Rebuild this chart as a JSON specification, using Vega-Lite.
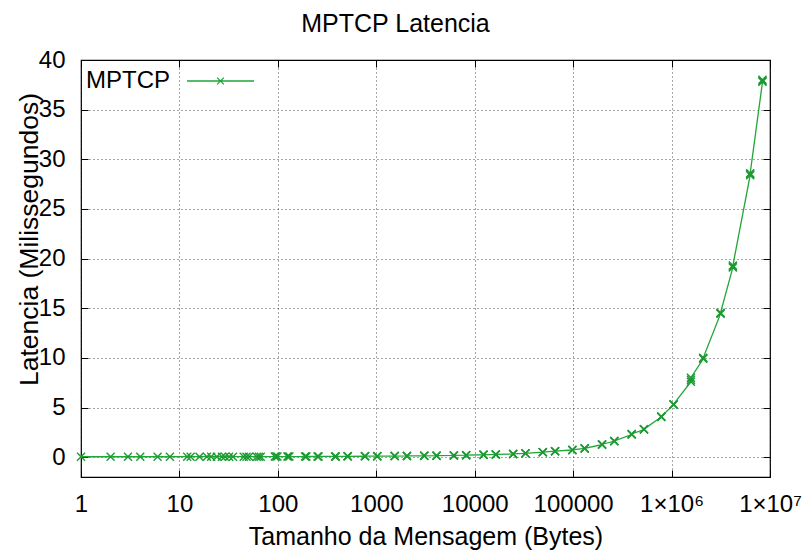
{
  "$schema": "https://vega.github.io/schema/vega-lite/v6.json",
  "width": 689,
  "height": 417,
  "autosize": "none",
  "padding": {"left": 81, "top": 60, "right": 38, "bottom": 77},
  "background": "white",
  "config": {
    "view": {"stroke": "#000", "strokeWidth": 1.2},
    "axis": {"labelFont": "Liberation Sans", "titleFont": "Liberation Sans", "labelColor": "#000", "titleColor": "#000", "titleFontWeight": "normal", "tickColor": "#000", "tickWidth": 1, "domain": false, "labelFlush": false, "labelOverlap": false, "labelBound": false}
  },
  "data": {"values": [
    {"size": 1, "lat": 0.041}, {"size": 2, "lat": 0.041}, {"size": 3, "lat": 0.042}, {"size": 4, "lat": 0.041},
    {"size": 6, "lat": 0.042}, {"size": 8, "lat": 0.042}, {"size": 12, "lat": 0.043}, {"size": 13, "lat": 0.043},
    {"size": 16, "lat": 0.043}, {"size": 19, "lat": 0.044}, {"size": 21, "lat": 0.044}, {"size": 24, "lat": 0.044},
    {"size": 27, "lat": 0.045}, {"size": 29, "lat": 0.045}, {"size": 32, "lat": 0.045}, {"size": 35, "lat": 0.046},
    {"size": 45, "lat": 0.047}, {"size": 48, "lat": 0.047}, {"size": 51, "lat": 0.048}, {"size": 61, "lat": 0.049},
    {"size": 64, "lat": 0.049}, {"size": 67, "lat": 0.05}, {"size": 93, "lat": 0.053}, {"size": 96, "lat": 0.053},
    {"size": 99, "lat": 0.054}, {"size": 125, "lat": 0.056}, {"size": 128, "lat": 0.056}, {"size": 131, "lat": 0.057},
    {"size": 189, "lat": 0.062}, {"size": 192, "lat": 0.062}, {"size": 195, "lat": 0.063}, {"size": 253, "lat": 0.067},
    {"size": 256, "lat": 0.067}, {"size": 259, "lat": 0.068}, {"size": 381, "lat": 0.075}, {"size": 384, "lat": 0.075},
    {"size": 387, "lat": 0.076}, {"size": 509, "lat": 0.082}, {"size": 512, "lat": 0.082}, {"size": 515, "lat": 0.083},
    {"size": 765, "lat": 0.092}, {"size": 768, "lat": 0.092}, {"size": 771, "lat": 0.093}, {"size": 1021, "lat": 0.1},
    {"size": 1024, "lat": 0.1}, {"size": 1027, "lat": 0.101}, {"size": 1533, "lat": 0.11}, {"size": 1536, "lat": 0.11},
    {"size": 1539, "lat": 0.111}, {"size": 2045, "lat": 0.12}, {"size": 2048, "lat": 0.12}, {"size": 2051, "lat": 0.121},
    {"size": 3069, "lat": 0.135}, {"size": 3072, "lat": 0.135}, {"size": 3075, "lat": 0.136}, {"size": 4093, "lat": 0.15},
    {"size": 4096, "lat": 0.15}, {"size": 4099, "lat": 0.151}, {"size": 6141, "lat": 0.175}, {"size": 6144, "lat": 0.175},
    {"size": 6147, "lat": 0.176}, {"size": 8189, "lat": 0.2}, {"size": 8192, "lat": 0.2}, {"size": 8195, "lat": 0.201},
    {"size": 12285, "lat": 0.24}, {"size": 12288, "lat": 0.24}, {"size": 12291, "lat": 0.241}, {"size": 16381, "lat": 0.27},
    {"size": 16384, "lat": 0.27}, {"size": 16387, "lat": 0.272}, {"size": 24573, "lat": 0.32}, {"size": 24576, "lat": 0.32},
    {"size": 24579, "lat": 0.322}, {"size": 32765, "lat": 0.38}, {"size": 32768, "lat": 0.38}, {"size": 32771, "lat": 0.382},
    {"size": 49149, "lat": 0.5}, {"size": 49152, "lat": 0.5}, {"size": 49155, "lat": 0.505}, {"size": 65533, "lat": 0.6},
    {"size": 65536, "lat": 0.6}, {"size": 65539, "lat": 0.605}, {"size": 98301, "lat": 0.72}, {"size": 98304, "lat": 0.72},
    {"size": 98307, "lat": 0.73}, {"size": 131069, "lat": 0.88}, {"size": 131072, "lat": 0.88}, {"size": 131075, "lat": 0.89},
    {"size": 196605, "lat": 1.26}, {"size": 196608, "lat": 1.28}, {"size": 196611, "lat": 1.3}, {"size": 262141, "lat": 1.6},
    {"size": 262144, "lat": 1.62}, {"size": 262147, "lat": 1.63}, {"size": 393213, "lat": 2.27}, {"size": 393216, "lat": 2.3},
    {"size": 393219, "lat": 2.33}, {"size": 524285, "lat": 2.78}, {"size": 524288, "lat": 2.8}, {"size": 524291, "lat": 2.82},
    {"size": 786429, "lat": 4.05}, {"size": 786432, "lat": 4.07}, {"size": 786435, "lat": 4.09}, {"size": 1048573, "lat": 5.28},
    {"size": 1048576, "lat": 5.31}, {"size": 1048579, "lat": 5.34}, {"size": 1572861, "lat": 7.6}, {"size": 1572864, "lat": 7.8},
    {"size": 1572867, "lat": 8.0}, {"size": 2097149, "lat": 9.9}, {"size": 2097152, "lat": 9.95}, {"size": 2097155, "lat": 10.0},
    {"size": 3145725, "lat": 14.45}, {"size": 3145728, "lat": 14.5}, {"size": 3145731, "lat": 14.55}, {"size": 4194301, "lat": 19.1},
    {"size": 4194304, "lat": 19.2}, {"size": 4194307, "lat": 19.3}, {"size": 6291453, "lat": 28.4}, {"size": 6291456, "lat": 28.5},
    {"size": 6291459, "lat": 28.6}, {"size": 8388605, "lat": 37.8}, {"size": 8388608, "lat": 37.9}, {"size": 8388611, "lat": 38.0}
  ]},
  "layer": [
    {
      "mark": {"type": "line", "strokeWidth": 1.3},
      "encoding": {
        "x": {"field": "size", "type": "quantitative", "scale": {"type": "log", "domain": [1, 10000000], "nice": false},
          "axis": {"orient": "bottom", "values": [1, 10, 100, 1000, 10000, 100000, 1000000, 10000000],
            "labelExpr": "datum.value == 1000000 ? '1×10⁶' : datum.value == 10000000 ? '1×10⁷' : format(datum.value, 'd')",
            "grid": true, "gridColor": "#000", "gridDash": [1, 3], "gridOpacity": 0.7, "gridWidth": 1,
            "tickSize": -7, "labelFontSize": 24, "labelBaseline": "alphabetic", "labelPadding": 41.5,
            "title": "Tamanho da Mensagem (Bytes)", "titleFontSize": 25, "titleX": 344.5, "titleY": 67, "titleBaseline": "alphabetic", "titleAlign": "center"}},
        "y": {"field": "lat", "type": "quantitative", "scale": {"domain": [-2, 40], "nice": false, "zero": false},
          "axis": {"orient": "left", "values": [0, 5, 10, 15, 20, 25, 30, 35, 40],
            "grid": true, "gridColor": "#000", "gridDash": [1, 3], "gridOpacity": 0.7, "gridWidth": 1,
            "tickSize": -7, "labelFontSize": 24, "labelPadding": 23,
            "title": "Latencia (Milissegundos)", "titleFontSize": 26.5, "titleX": -44, "titleY": 179, "titleBaseline": "alphabetic", "titleAlign": "center", "titleAngle": -90}},
        "color": {"datum": "MPTCP", "type": "nominal", "scale": {"range": ["#20a637"]},
          "legend": {"title": null, "orient": "none", "legendX": 3, "legendY": -13.5, "padding": 0,
            "symbolType": "M-1,0L1,0M-0.1,-0.1L0.1,0.1M-0.1,0.1L0.1,-0.1", "symbolSize": 4489,
            "symbolStrokeWidth": 1.3, "symbolStrokeColor": "#20a637", "symbolOpacity": 1, "symbolFillColor": "transparent", "symbolOffset": 102, "labelOffset": -169,
            "labelFontSize": 24, "labelFont": "Liberation Sans", "labelColor": "#000", "labelLimit": 200}}
      }
    },
    {
      "mark": {"type": "point", "shape": "M-1,-1L1,1M-1,1L1,-1", "size": 64, "filled": false, "strokeWidth": 1.4, "color": "#1d9a33", "opacity": 1},
      "encoding": {
        "x": {"field": "size", "type": "quantitative",
          "axis": {"orient": "top", "values": [1, 10, 100, 1000, 10000, 100000, 1000000, 10000000], "labels": false, "grid": false, "tickSize": -7,
            "title": "MPTCP Latencia", "titleFontSize": 25, "titleX": 314, "titleY": -29, "titleBaseline": "alphabetic", "titleAlign": "center"}},
        "y": {"field": "lat", "type": "quantitative",
          "axis": {"orient": "right", "values": [0, 5, 10, 15, 20, 25, 30, 35, 40], "labels": false, "grid": false, "tickSize": -7, "title": null}}
      }
    }
  ],
  "resolve": {"axis": {"x": "independent", "y": "independent"}}
}
